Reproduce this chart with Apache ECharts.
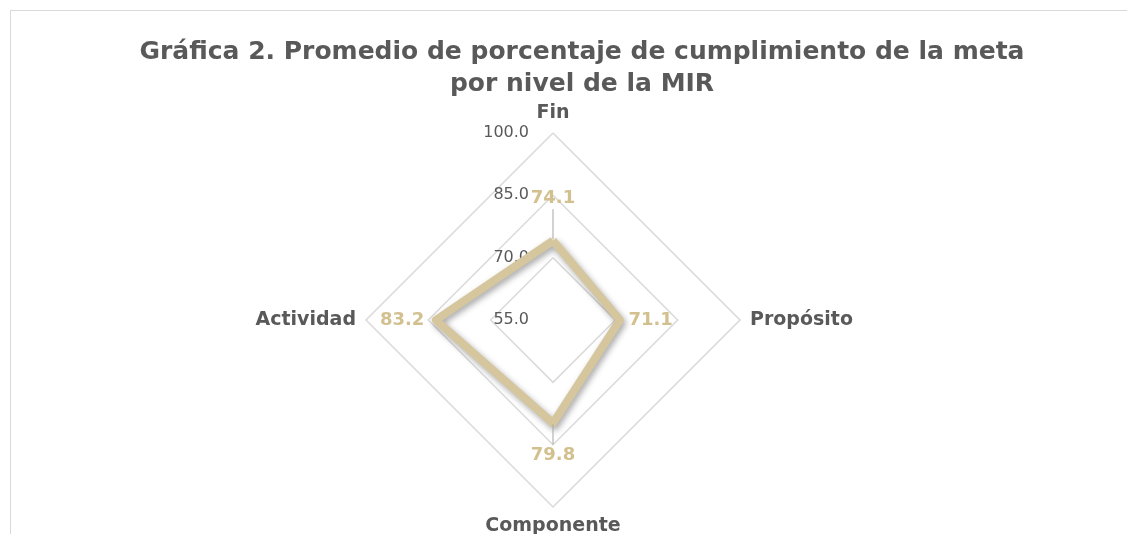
<!DOCTYPE html>
<html>
<head>
<meta charset="utf-8">
<script src="https://cdn.jsdelivr.net/npm/echarts@6/dist/echarts.min.js"></script>
<style>
  html, body { margin: 0; padding: 0; background: #fff; }
  #chart { width: 1127px; height: 534px; position: relative; }
  #frame { position: absolute; left: 10px; top: 10px; right: 0; bottom: 0;
           border-top: 1px solid #d9d9d9; border-left: 1px solid #d9d9d9; pointer-events: none; }
</style>
</head>
<body>
<div id="chart"></div>
<div id="frame"></div>
<script>
// Radar: promedio de cumplimiento por nivel de la MIR
const titleText = 'Gráfica 2. Promedio de porcentaje de cumplimiento de la meta\npor nivel de la MIR';
// order as ECharts lays them out (counter-clockwise from top)
const niveles = ['Fin', 'Actividad', 'Componente', 'Propósito'];
const promedios = [74.1, 83.2, 79.8, 71.1];
const axisMin = 55;
const axisMax = 100;
const axisStep = 15;
// where each value label sits relative to its vertex
const labelPos = ['top', 'left', 'bottom', 'right'];

const gold = '#d6c69d';
const labelGold = '#d3c08f';
const grey = '#595959';
const FONT = 'DejaVu Sans, sans-serif';

const chart = echarts.init(document.getElementById('chart'));

function labelSeries(dim) {
  const pos = labelPos[dim];
  return {
    type: 'radar',
    silent: true,
    symbol: 'circle',
    symbolSize: 1,
    itemStyle: { color: 'rgba(0,0,0,0)' },
    lineStyle: { width: 0, opacity: 0 },
    label: {
      show: true,
      position: pos,
      distance: pos === 'left' ? 11 : (pos === 'right' ? 8 : 1),
      formatter: (p) => {
        if (p.dimensionIndex !== dim) return '';
        const v = promedios[dim].toFixed(1);
        if (pos === 'top') return '{v|' + v + '}\n{l| }';
        if (pos === 'bottom') return '{l| }\n{v|' + v + '}';
        return '{v|' + v + '}';
      },
      rich: {
        v: { fontFamily: FONT, fontWeight: 'bold', fontSize: 18, color: labelGold, lineHeight: 22 },
        l: { width: 1, height: pos === 'top' ? 30 : 20, backgroundColor: '#a6a6a6', fontSize: 1 },
      },
    },
    data: [{ value: promedios }],
  };
}

chart.setOption({
  animation: false,
  title: {
    text: titleText,
    left: 577,
    top: 31,
    textAlign: 'center',
    textStyle: { fontFamily: FONT, fontWeight: 'bold', fontSize: 25, color: grey, lineHeight: 32 },
  },
  radar: {
    center: [553, 320],
    radius: 187,
    shape: 'polygon',
    startAngle: 90,
    splitNumber: 3,
    nameGap: 10,
    axisName: { fontFamily: FONT, fontWeight: 'bold', fontSize: 19, color: grey },
    axisLine: { show: false },
    axisTick: { show: false },
    splitArea: { show: false },
    splitLine: { lineStyle: { color: '#d9d9d9', width: 1.5 } },
    indicator: niveles.map((n, i) => ({
      name: n,
      min: axisMin,
      max: axisMax,
      interval: axisStep,
      axisLabel: {
        show: i === 0,
        formatter: (v) => v.toFixed(1),
        fontFamily: FONT,
        fontSize: 16,
        color: grey,
        margin: 24,
      },
    })),
  },
  series: [{
    type: 'radar',
    symbol: 'none',
    lineStyle: {
      color: gold, width: 8,
      shadowColor: 'rgba(0,0,0,0.35)', shadowBlur: 6, shadowOffsetX: 2, shadowOffsetY: 3,
    },
    data: [{ value: promedios }],
  }].concat(niveles.map((n, i) => labelSeries(i))),
});

window.addEventListener('resize', () => chart.resize());
</script>
</body>
</html>
